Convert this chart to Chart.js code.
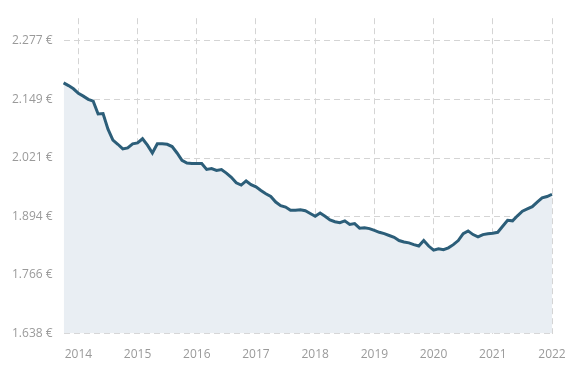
<!DOCTYPE html>
<html>
<head>
<meta charset="utf-8">
<script src="https://cdn.jsdelivr.net/npm/chart.js@4/dist/chart.umd.min.js"></script>
<style>
  html, body { margin: 0; padding: 0; background: #fff; }
  #wrap { width: 584px; height: 381px; }
</style>
</head>
<body>
<div id="wrap"><canvas id="priceChart"></canvas></div>
<script>
// monthly values, Oct 2013 .. Jan 2022
const prices = [
  2185, 2179, 2172, 2162, 2156, 2149, 2145, 2117, 2118, 2084,
  2060, 2051, 2041, 2043, 2052, 2054, 2063, 2049, 2032, 2052,
  2052, 2051, 2046, 2032, 2016, 2010, 2009, 2009, 2009, 1996,
  1998, 1994, 1996, 1988, 1979, 1967, 1962, 1971, 1963, 1958,
  1950, 1943, 1937, 1925, 1917, 1914, 1907, 1907, 1908, 1906,
  1900, 1894, 1901, 1894, 1886, 1882, 1880, 1884, 1876, 1878,
  1868, 1869, 1867, 1863, 1859, 1856, 1852, 1848, 1841, 1838,
  1836, 1832, 1829, 1841, 1829, 1820, 1823, 1821, 1825, 1832,
  1841, 1856, 1862, 1854, 1849, 1854, 1856, 1857, 1859, 1872,
  1885, 1884, 1895, 1905, 1910, 1915, 1925, 1934, 1937, 1942
];
const yTicks = [1638, 1766, 1894, 2021, 2149, 2277];

const months = [];
for (let i = 0; i < prices.length; i++) {
  const m = (9 + i) % 12 + 1;
  const y = 2013 + Math.floor((9 + i) / 12);
  months.push(y + '-' + (m < 10 ? '0' + m : m));
}

function euro(v) {
  const s = String(Math.round(v));
  return s.slice(0, s.length - 3) + '.' + s.slice(-3) + ' €';
}

const gridStyle = {
  color: '#d4d4d4',
  lineWidth: 1,
  drawTicks: false
};

const ctx = document.getElementById('priceChart').getContext('2d');
const chart = new Chart(ctx, {
  type: 'line',
  data: {
    labels: months,
    datasets: [{
      data: prices,
      borderColor: '#2c5e79',
      backgroundColor: '#e9eef3',
      borderWidth: 3,
      fill: 'start',
      pointRadius: 0,
      tension: 0
    }]
  },
  options: {
    responsive: true,
    maintainAspectRatio: false,
    animation: false,
    layout: { padding: { top: 15, right: 32, bottom: 5, left: 1 } },
    plugins: {
      legend: { display: false },
      tooltip: { enabled: false }
    },
    scales: {
      x: {
        border: { display: false, dash: [6, 4] },
        grid: gridStyle,
        ticks: {
          autoSkip: false,
          maxRotation: 0,
          padding: 14,
          color: '#9a9a9a',
          font: { family: 'Open Sans', size: 12 },
          callback: function(val) {
            const lbl = this.getLabelForValue(val);
            return lbl.endsWith('-01') ? lbl.slice(0, 4) : null;
          }
        }
      },
      y: {
        min: 1638,
        max: 2326,
        border: { display: false, dash: [6, 4] },
        grid: gridStyle,
        afterBuildTicks: function(axis) {
          axis.ticks = yTicks.map(v => ({ value: v }));
        },
        ticks: {
          padding: 11,
          color: '#9a9a9a',
          font: { family: 'Open Sans', size: 12 },
          callback: function(v) { return euro(v); }
        }
      }
    }
  }
});
</script>
</body>
</html>
